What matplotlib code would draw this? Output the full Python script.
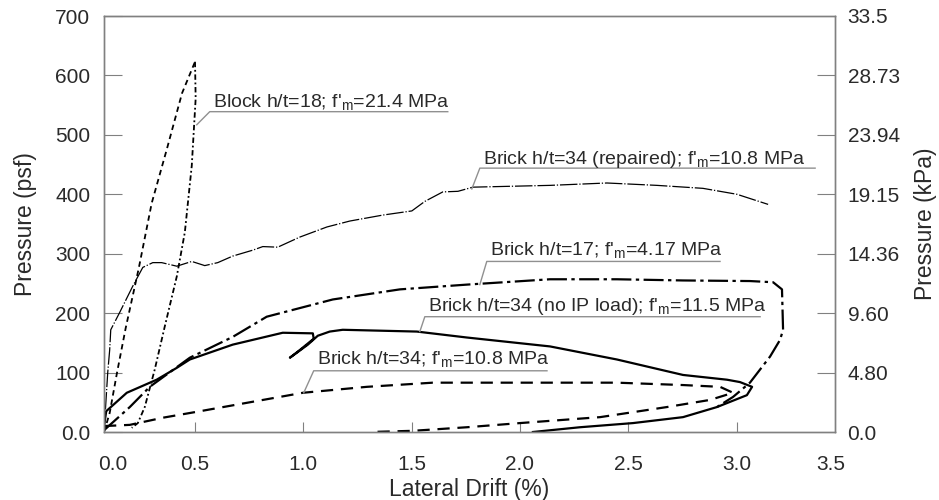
import numpy as np
import matplotlib.pyplot as plt

plt.rcParams['font.family'] = ['Liberation Sans', 'DejaVu Sans']
plt.rcParams['mathtext.default'] = 'regular'

# drift (%) and pressure (psf)
block_x = [0.08, 0.106, 0.14, 0.18, 0.24, 0.30, 0.37, 0.44, 0.50,
           0.503, 0.485, 0.453, 0.416, 0.36, 0.314, 0.268, 0.236, 0.208]
block_y = [0, 32, 100, 175, 275, 385, 476, 570, 623,
           561, 448, 336, 262, 177, 105, 42, 15, 7]
block_peak = 8

repaired_x = [0.08, 0.097, 0.106, 0.111, 0.152, 0.212, 0.259, 0.305, 0.346, 0.416,
              0.485, 0.545, 0.605, 0.674, 0.767, 0.813, 0.882, 0.984, 1.109, 1.215,
              1.367, 1.501, 1.561, 1.644, 1.714, 1.783, 2.139, 2.402, 2.633, 2.845,
              3.002, 3.146]
repaired_y = [0, 100, 138, 172, 201, 245, 277, 285, 285, 279,
              287, 280, 285, 296, 306, 312, 311, 328, 345, 355,
              365, 372, 388, 404, 405, 412, 415, 419, 415, 410,
              400, 383]

ht17_x = [0.08, 0.199, 0.291, 0.476, 0.674, 0.831, 1.136, 1.446, 1.755, 2.139,
          2.448, 2.753, 3.062, 3.169, 3.210, 3.215, 3.201, 3.155, 3.062, 2.984, 2.910]
ht17_y = [3, 42, 76, 125, 160, 194, 223, 240, 248, 257,
          257, 255, 254, 252, 240, 172, 155, 127, 83, 59, 42]

noip_x = [0.08, 0.09, 0.185, 0.323, 0.416, 0.476, 0.674, 0.905, 1.044, 1.048,
          0.984, 0.938, 0.965, 1.021, 1.067, 1.122, 1.182, 1.524, 1.755, 2.139,
          2.448, 2.753, 2.956, 3.016, 3.072, 3.048, 2.910, 2.753, 2.522, 2.277, 2.060]
noip_y = [10, 35, 66, 88, 108, 122, 147, 167, 166, 157,
          138, 125, 132, 147, 162, 169, 172, 169, 159, 144,
          122, 96, 88, 84, 76, 62, 42, 25, 15, 8, 0]

ht34_x = [0.08, 0.199, 0.351, 0.508, 0.661, 0.998, 1.293, 1.598, 2.139, 2.448,
          2.753, 2.924, 2.984, 2.878, 2.679, 2.370, 2.0, 1.755, 1.506, 1.307]
ht34_y = [10, 12, 24, 34, 44, 66, 76, 83, 83, 83,
          79, 76, 66, 54, 42, 25, 15, 8, 2, 0]

labels = [r"Block h/t=18; f'$_{m}$=21.4 MPa",
          r"Brick h/t=34 (repaired); f'$_{m}$=10.8 MPa",
          r"Brick h/t=17; f'$_{m}$=4.17 MPa",
          r"Brick h/t=34 (no IP load); f'$_{m}$=11.5 MPa",
          r"Brick h/t=34; f'$_{m}$=10.8 MPa"]
# text anchor, underline end, leader tip
label_pos = [(0.582, 556, 1.667, 539, 0.508, 517),
             (1.829, 459, 3.363, 444, 1.778, 409),
             (1.861, 306, 2.924, 287, 1.815, 248),
             (1.575, 211, 3.109, 194, 1.538, 169),
             (1.062, 123, 2.125, 103, 1.002, 66)]

psf_ticks = [0, 100, 200, 300, 400, 500, 600, 700]
psf_labels = ['0.0', '100', '200', '300', '400', '500', '600', '700']
kpa_labels = ['0.0', '4.80', '9.60', '14.36', '19.15', '23.94', '28.73', '33.5']
drift_labels = ['0.0', '0.5', '1.0', '1.5', '2.0', '2.5', '3.0', '3.5']

grey = '#808080'
txt = '#2a2a2a'

fig = plt.figure(figsize=(9.39, 5.0), dpi=100)
ax = fig.add_axes([0.1108, 0.136, 0.7785, 0.832])

ax.plot(block_x[:block_peak + 1], block_y[:block_peak + 1], color='k', lw=1.3,
        dashes=(3, 2.2))
ax.plot(block_x[block_peak:], block_y[block_peak:], color='k', lw=1.3,
        dashes=(3, 1.5, 1, 1.5))
ax.plot(repaired_x, repaired_y, color='k', lw=0.9, dashes=(14, 1.5, 1, 1.5))
ax.plot(ht17_x, ht17_y, color='k', lw=1.6, dashes=(9, 2, 1.5, 2))
ax.plot(noip_x, noip_y, color='k', lw=1.6)
ax.plot(ht34_x, ht34_y, color='k', lw=1.6, dashes=(5.5, 3.5))

for s, (tx, ty, ux, uy, lx, ly) in zip(labels, label_pos):
    ax.text(tx, ty, s, fontsize=14, color=txt, ha='left', va='center')
    ax.plot([lx, tx - 0.014, ux], [ly, uy, uy], color='#909090', lw=1.0)

xmin, xmax = 0.08, 3.455
ax.set_xlim(xmin, xmax)
ax.set_ylim(0, 700)

xt = [0.12, 0.5, 1.0, 1.5, 2.0, 2.5, 3.0, 3.437]
ax.set_xticks(xt, drift_labels)
ax.set_yticks(psf_ticks, psf_labels)
ax.tick_params(axis='x', direction='in', length=10 * 72 / 100, color=grey,
               labelsize=15, labelcolor=txt, pad=16.5)
ax.tick_params(axis='y', direction='in', length=18 * 72 / 100, color=grey,
               labelsize=15, labelcolor=txt, pad=10)
for i in (0, -1):
    ax.xaxis.get_major_ticks()[i].tick1line.set_visible(False)
    ax.yaxis.get_major_ticks()[i].tick1line.set_visible(False)

ax2 = ax.twinx()
ax2.set_ylim(0, 700)
ax2.set_yticks(psf_ticks, kpa_labels)
ax2.tick_params(axis='y', direction='in', length=18 * 72 / 100, color=grey,
                labelsize=15, labelcolor=txt, pad=9)
for i in (0, -1):
    ax2.yaxis.get_major_ticks()[i].tick2line.set_visible(False)

for a in (ax, ax2):
    for sp in a.spines.values():
        sp.set_color(grey)
        sp.set_linewidth(1.0)

ax.set_xlabel('Lateral Drift (%)', fontsize=16.5, color=txt, labelpad=3)
ax.set_ylabel('Pressure (psf)', fontsize=16.5, color=txt, labelpad=13)
ax2.set_ylabel('Pressure (kPa)', fontsize=16.5, color=txt, labelpad=10)

fig.savefig('out.png', dpi=100)
